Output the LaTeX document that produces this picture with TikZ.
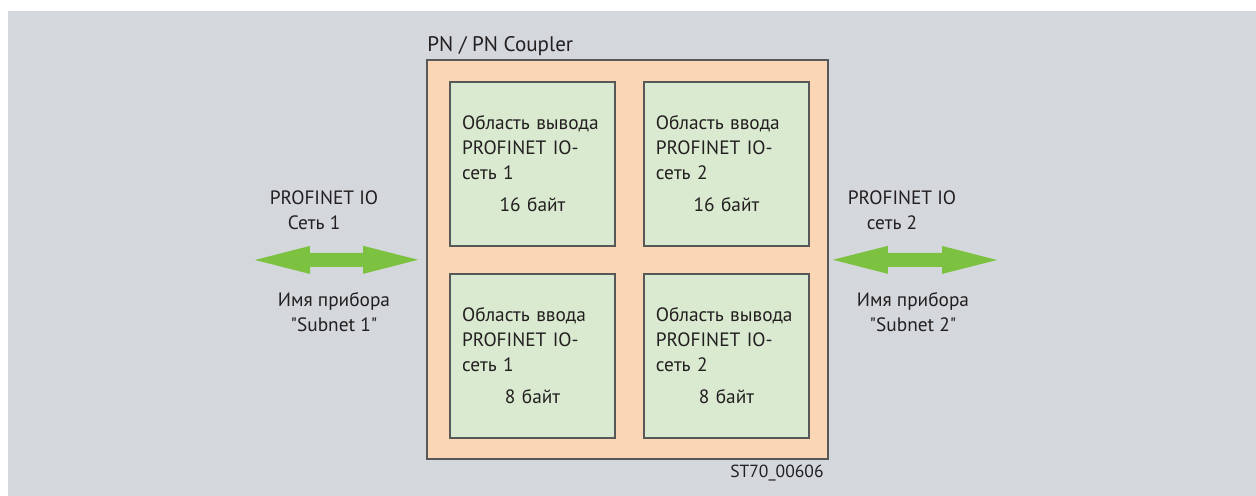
\documentclass[tikz,border=0pt]{standalone}
\usepackage{fontspec}
\setmainfont{PT Sans}
\usetikzlibrary{arrows.meta, positioning}
\definecolor{bgray}{RGB}{212,216,221}
\definecolor{peach}{RGB}{250,214,181}
\definecolor{pale}{RGB}{218,234,208}
\definecolor{lgreen}{RGB}{124,193,64}
\definecolor{frame}{RGB}{88,88,88}
\definecolor{ink}{RGB}{35,31,32}
\tikzset{
  cpl/.style  = {draw=frame, line width=1.1pt, fill=peach, minimum width=8.02cm, minimum height=7.98cm},
  area/.style = {draw=frame, line width=1.1pt, fill=pale, minimum width=3.3cm, minimum height=3.28cm,
                 text width=2.82cm, inner sep=0pt, align=left, text=ink, font=\fontsize{11}{14.2}\selectfont},
  net/.style  = {{Triangle[length=1.1cm,width=0.56cm,line width=0pt]}-{Triangle[length=1.1cm,width=0.56cm,line width=0pt]},
                 line width=0.28cm, draw=lgreen},
  lbl/.style  = {align=left, text=ink, font=\fontsize{11}{14.2}\selectfont},
  ttl/.style  = {inner sep=0pt, text=ink, font=\fontsize{12}{14}\selectfont},
  tag/.style  = {inner sep=0pt, text=ink, font=\fontsize{10}{12}\selectfont}
}
\newcommand{\bytesline}[1]{\hspace*{\fill}#1\hspace*{\fill}\null}

\begin{document}
\begin{tikzpicture}[x=0.02cm, y=0.02cm]
% background
\fill[white] (0,0) rectangle (1256,496);
\fill[bgray] (8,0) rectangle (1256,485);
%% ===== coupler =====
\node[cpl] (cpl) at (627.5,236.5) {};
\node[ttl, anchor=base west] (ttl) at ([xshift=0.02cm, yshift=0.16cm]cpl.north west) {PN / PN Coupler};
\node[area, anchor=north west] (o1) at ([xshift=0.46cm, yshift=-0.44cm]cpl.north west)
  {Область вывода\\PROFINET IO-\\сеть 1\\[1.4mm]\bytesline{16 байт}};
\node[area, right=0.54cm of o1] (i2)
  {Область ввода\\PROFINET IO-\\сеть 2\\[1.4mm]\bytesline{16 байт}};
\node[area, below=0.52cm of o1] (i1)
  {Область ввода\\PROFINET IO-\\сеть 1\\[1.4mm]\bytesline{8 байт}};
\node[area, below=0.52cm of i2] (o2)
  {Область вывода\\PROFINET IO-\\сеть 2\\[1.4mm]\bytesline{8 байт}};
\node[tag, anchor=base east] (id) at ([xshift=-0.1cm, yshift=-0.36cm]cpl.south east) {ST70\_00606};
%% ===== network 1 =====
\node[lbl] (n1) at (324,286) {PROFINET IO\\\hspace*{0.36cm}Сеть 1};
\node[lbl, align=center] (d1) at (334,184) {Имя прибора\\\textquotedbl Subnet 1\textquotedbl};
\coordinate (w1) at (255,236);
\draw[net, shorten >=0.16cm] (w1) -- (cpl);
%% ===== network 2 =====
\node[lbl] (n2) at (902,286) {PROFINET IO\\\hspace*{0.38cm}сеть 2};
\node[lbl, align=center] (d2) at (913,184) {Имя прибора\\\textquotedbl Subnet 2\textquotedbl};
\coordinate (e2) at (997,236);
\draw[net, shorten <=0.08cm] (cpl) -- (e2);
\end{tikzpicture}
\end{document}
